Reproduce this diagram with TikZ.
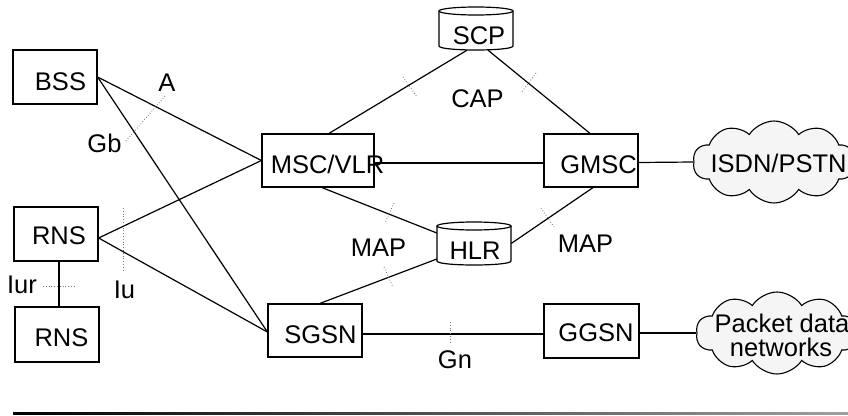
\documentclass[tikz,border=0pt]{standalone}
\usepackage{fontspec}
\setmainfont{Liberation Sans}
\usetikzlibrary{shapes.symbols,calc}

\begin{document}
\begin{tikzpicture}[x=1pt,y=-1pt,
  box/.style={draw, line width=1.2pt, inner sep=0pt},
  hold/.style={inner sep=0pt},
  link/.style={line width=1.2pt},
  tick/.style={black!55, dotted, line width=0.8pt},
  lbl/.style={font=\fontsize{25.5}{29}\selectfont, inner sep=0pt, anchor=base},
  netcloud/.style={cloud, draw, fill=gray!8, line width=1.1pt, cloud puffs=10,
    cloud puff arc=115, aspect=2, inner sep=0pt, minimum width=162pt, minimum height=82pt}]
\useasboundingbox (0,0) rectangle (848,415);

% network elements
\node[box, minimum width=84pt, minimum height=54pt] (bss)  at (55,77)     {};
\node[box, minimum width=84pt, minimum height=54pt] (rns1) at (56,234)    {};
\node[box, minimum width=84pt, minimum height=55pt] (rns2) at (57,334.5)  {};
\node[box, minimum width=112pt, minimum height=53pt] (msc) at (318,160.5) {};
\node[box, minimum width=94pt, minimum height=53pt] (gmsc)  at (591,160.5) {};
\node[box, minimum width=94pt, minimum height=53pt] (sgsn)  at (315,330.5) {};
\node[box, minimum width=95pt, minimum height=54pt] (ggsn)  at (591.5,331) {};

% databases (drawn as cylinders)
\node[hold, minimum width=74pt, minimum height=43pt] (scp) at (476,28.5) {};
\node[hold, minimum width=74pt, minimum height=43pt] (hlr) at (474,243.5) {};
\foreach \n/\l/\r/\t/\b in {scp/439/513/11/46, hlr/437/511/226/261}{
  \draw[line width=1.2pt] (\l,\t) -- (\l,\b)
     .. controls (\l,\b+5.33) and (\r,\b+5.33) .. (\r,\b) -- (\r,\t);
  \draw[line width=1.2pt] ({(\l+\r)/2},\t) ellipse [x radius={(\r-\l)/2}, y radius=4];
}

% external networks
\node[netcloud] (isdn) at (774,162) {};
\node[netcloud] (pdn)  at (777,333) {};

% connections
\draw[link] (bss.east) -- (msc.west);
\draw[link] (bss.east) -- ($(sgsn.west)+(0,1.5)$);
\draw[link] ($(rns1.east)+(0,4)$) -- (msc.west);
\draw[link] ($(rns1.east)+(0,4)$) -- ($(sgsn.west)+(0,1.5)$);
\draw[link] ($(rns1.south)+(3,0)$) coordinate (iurtop) -- (iurtop |- rns2.north);
\draw[link] ($(msc.east)+(0,2.5)$) -- ($(gmsc.west)+(0,2.5)$);
\draw[link] ($(msc.north)+(11,0)$) -- ($(scp.south)+(-9,0)$);
\draw[link] ($(scp.south)+(12,0)$) -- ($(gmsc.north)+(-1,0)$);
\draw[link] ($(msc.south)+(4,0)$) -- ($(hlr.west)+(0,-10.5)$);
\draw[link] ($(sgsn.north)+(5,0)$) -- ($(hlr.west)+(0,15.5)$);
\draw[link] (hlr.east) -- ($(gmsc.south)+(2,0)$);
\draw[link] ($(gmsc.east)+(0,2)$) -- (isdn.west);
\draw[link] ($(sgsn.east)+(0,3.5)$) -- ($(ggsn.west)+(0,3)$);
\draw[link] ($(ggsn.east)+(0,2)$) -- (pdn.west);

% interface reference marks
\draw[tick] (165,96) -- (125,142);
\draw[tick] (403,77) -- (417,97);
\draw[tick] (536,73) -- (521,93);
\draw[tick] (394,203) -- (385,223);
\draw[tick] (384,267) -- (393,287);
\draw[tick] (541,208) -- (554,227);
\draw[tick] (123,208) -- (123,272);
\draw[tick] (43,286) -- (75,286);
\draw[tick] (450,322) -- (450,344);

% element names
\node[lbl] (tbss)  at (60.5,90)  {BSS};
\node[lbl] (trns1) at (59,244)   {RNS};
\node[lbl] (trns2) at (61.5,346) {RNS};
\node[lbl] (tmsc)  at (327.5,173) {MSC/VLR};
\node[lbl] (tgmsc) at (598.5,173) {GMSC};
\node[lbl] (tsgsn) at (320.5,343) {SGSN};
\node[lbl] (tggsn) at (596,341)  {GGSN};
\node[lbl] (tscp)  at (479,44)   {SCP};
\node[lbl] (thlr)  at (475,259)  {HLR};
\node[lbl] (tisdn) at (778.5,172) {ISDN/PSTN};
\node[lbl] (tpdn1) at (782,332)  {Packet data};
\node[lbl] (tpdn2) at (781,356)  {networks};

% interface names
\node[lbl] (tcap)  at (477.5,107) {CAP};
\node[lbl] (tmap1) at (378.5,256) {MAP};
\node[lbl] (tmap2) at (585.5,252) {MAP};
\node[lbl] (ta)    at (167,91)    {A};
\node[lbl] (tgb)   at (104.5,152) {Gb};
\node[lbl] (tiur)  at (22,293)    {Iur};
\node[lbl] (tiu)   at (124.5,298) {Iu};
\node[lbl] (tgn)   at (455,368)   {Gn};

% rule under the figure
\shade[left color=black, right color=gray!75] (13,412) rectangle (848,414.3);
\end{tikzpicture}
\end{document}
